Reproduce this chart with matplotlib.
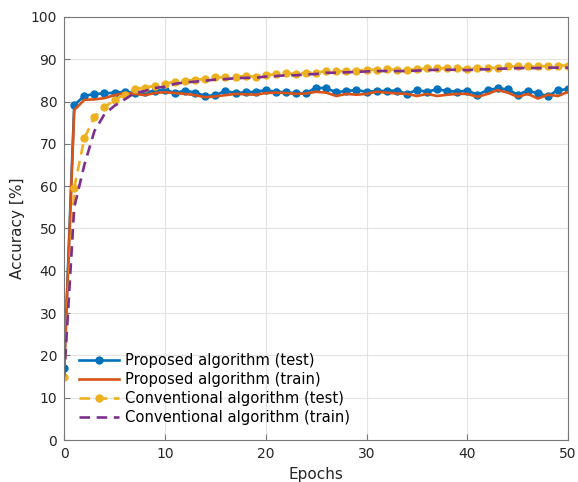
import matplotlib
matplotlib.use("Agg")
import matplotlib.pyplot as plt
import numpy as np

epochs = np.arange(0, 51)

# Proposed algorithm (test)
prop_test = [17.0, 79.2, 81.3, 81.8, 81.9, 82.1, 82.3, 82.0, 82.2, 82.5,
             82.8, 82.0, 82.6, 82.1, 81.3, 81.5, 82.5, 82.0, 82.2, 82.3,
             82.7, 82.3, 82.2, 81.9, 82.0, 83.3, 83.1, 82.2, 82.5, 82.7,
             82.3, 82.5, 82.5, 82.6, 81.8, 82.7, 82.3, 82.9, 82.5, 82.3,
             82.6, 81.6, 82.7, 83.1, 82.9, 81.6, 82.6, 81.9, 81.3, 82.7,
             82.9]
# Proposed algorithm (train)
prop_train = [16.0, 78.0, 80.4, 80.5, 80.8, 81.5, 82.0, 81.8, 81.5, 82.0,
              82.2, 82.0, 81.8, 81.5, 81.0, 81.2, 81.5, 81.8, 81.7, 81.6,
              82.0, 82.1, 82.0, 81.8, 81.9, 82.3, 82.1, 81.3, 81.8, 81.6,
              81.8, 82.3, 82.1, 81.9, 81.8, 81.3, 81.8, 81.3, 81.6, 81.8,
              81.8, 81.1, 81.8, 82.7, 82.1, 81.1, 81.8, 80.7, 81.6, 81.3,
              82.3]
# Conventional algorithm (test)
conv_test = [15.0, 59.6, 71.3, 76.3, 78.6, 80.4, 81.6, 82.9, 83.3, 83.7,
             84.2, 84.7, 84.9, 85.1, 85.3, 85.7, 85.7, 85.9, 86.0, 85.9,
             86.3, 86.4, 86.7, 86.5, 86.8, 86.8, 87.2, 87.1, 87.2, 87.3,
             87.5, 87.5, 87.6, 87.5, 87.5, 87.6, 87.8, 87.8, 87.9, 87.9,
             87.6, 87.9, 87.9, 88.0, 88.3, 88.3, 88.3, 88.3, 88.4, 88.5,
             88.5]
# Conventional algorithm (train)
conv_train = [15.0, 55.0, 65.0, 73.0, 77.0, 79.0, 80.5, 82.0, 82.5, 83.2,
              83.5, 84.2, 84.5, 84.7, 84.9, 85.2, 85.3, 85.5, 85.6, 85.6,
              85.9, 86.0, 86.2, 86.2, 86.4, 86.5, 86.8, 86.8, 86.9, 87.0,
              87.1, 87.2, 87.2, 87.2, 87.2, 87.3, 87.4, 87.5, 87.5, 87.5,
              87.4, 87.6, 87.6, 87.7, 87.8, 87.9, 87.9, 87.9, 88.0, 88.0,
              88.0]

fig = plt.figure(figsize=(5.78, 4.82), dpi=100)
ax = fig.add_axes([0.111, 0.087, 0.872, 0.878])

ax.plot(epochs, prop_test, '-o', color='#0072BD', lw=1.9, ms=5,
        label='Proposed algorithm (test)')
ax.plot(epochs, prop_train, '-', color='#D95319', lw=1.9,
        label='Proposed algorithm (train)')
ax.plot(epochs, conv_test, '--o', color='#EDB120', lw=1.9, ms=5,
        dashes=(4, 2.5), label='Conventional algorithm (test)')
ax.plot(epochs, conv_train, '--', color='#7E2F8E', lw=1.9,
        dashes=(4, 2.5), label='Conventional algorithm (train)')

ax.set_xlim(0, 50)
ax.set_ylim(0, 100)
ax.set_xticks(np.arange(0, 51, 10))
ax.set_yticks(np.arange(0, 101, 10))
ax.grid(True, color='#e3e3e3', lw=0.8)
ax.set_axisbelow(True)
for s in ax.spines.values():
    s.set_color('#777777')
    s.set_linewidth(0.8)
ax.tick_params(direction='in', length=4, color='#777777', labelsize=10,
               labelcolor='#262626', top=False, right=False, pad=5)
ax.set_xlabel('Epochs', fontsize=11, color='#262626', labelpad=4)
ax.set_ylabel('Accuracy [%]', fontsize=11, color='#262626')

ax.legend(loc='lower left', frameon=False, fontsize=10.6, handlelength=2.7,
          handletextpad=0.4, bbox_to_anchor=(0.0, 0.0), labelspacing=0.28,
          borderaxespad=0.6)

fig.savefig('out.png', dpi=100)
